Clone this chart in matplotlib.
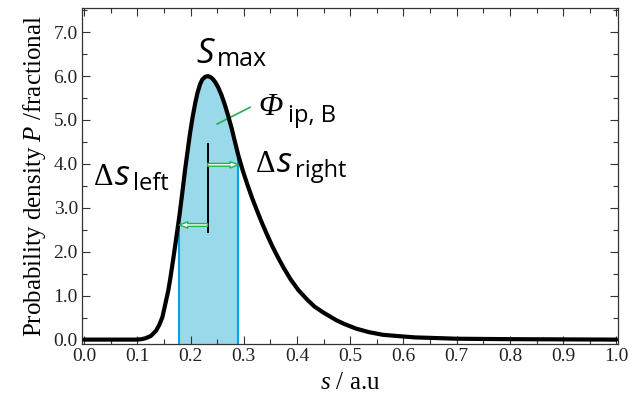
import numpy as np
import matplotlib
matplotlib.use('Agg')
import matplotlib.pyplot as plt
from matplotlib.ticker import MultipleLocator, FormatStrFormatter

plt.rcParams['mathtext.fontset'] = 'custom'
plt.rcParams['mathtext.it'] = 'Liberation Serif:italic'
plt.rcParams['mathtext.rm'] = 'Liberation Serif'

# distribution curve
s_vals = np.array([0.000, 0.100, 0.108, 0.115, 0.125, 0.135, 0.141, 0.147, 0.152,
                   0.158, 0.162, 0.167, 0.172, 0.179, 0.184, 0.190, 0.199, 0.204,
                   0.209, 0.213, 0.218, 0.222, 0.227, 0.232, 0.237, 0.242, 0.247,
                   0.252, 0.258, 0.264, 0.270, 0.277, 0.283, 0.290, 0.298, 0.307,
                   0.316, 0.326, 0.335, 0.344, 0.353, 0.363, 0.375, 0.388, 0.403,
                   0.419, 0.433, 0.449, 0.460, 0.474, 0.490, 0.511, 0.535, 0.561,
                   0.590, 0.622, 0.650, 0.700, 0.800, 1.000])
p_vals = np.array([0.00, 0.00, 0.01, 0.03, 0.08, 0.20, 0.33, 0.51, 0.78,
                   1.11, 1.40, 1.80, 2.22, 2.82, 3.30, 3.90, 4.70, 5.08,
                   5.40, 5.62, 5.82, 5.92, 5.98, 6.00, 5.98, 5.93, 5.85,
                   5.74, 5.57, 5.36, 5.12, 4.82, 4.52, 4.18, 3.85, 3.52,
                   3.21, 2.90, 2.63, 2.38, 2.14, 1.90, 1.63, 1.37, 1.12,
                   0.91, 0.75, 0.62, 0.54, 0.44, 0.35, 0.25, 0.17, 0.11,
                   0.08, 0.05, 0.04, 0.02, 0.01, 0.00])

s_peak = 0.232
s_left, s_right = 0.179, 0.290
peak_bar = (2.42, 4.48)
arrow_right_y = 3.98
arrow_left_y = 2.61
leader = ([0.250, 0.312], [4.91, 5.29])

W, H = 632, 413
fig = plt.figure(figsize=(W / 100, H / 100), dpi=100)
ax = fig.add_axes([82 / W, 1 - 344 / H, (618 - 82) / W, (344 - 8) / H])

FILL = '#99d9ea'
BLUE = '#00a2e8'
GREEN = '#22b14c'

mask = (s_vals >= s_left) & (s_vals <= s_right)
ax.fill_between(s_vals, -0.1, p_vals, where=mask, color=FILL, lw=0, zorder=1)
ax.vlines([s_left, s_right], -0.1,
          [np.interp(s_left, s_vals, p_vals), np.interp(s_right, s_vals, p_vals)],
          color=BLUE, lw=1.5, zorder=2)
ax.plot(s_vals, p_vals, color='black', lw=3.0, solid_joinstyle='round',
        solid_capstyle='round', zorder=4)
ax.vlines(s_peak, *peak_bar, color='black', lw=1.4, zorder=3)
ax.plot(*leader, color=GREEN, lw=1.2, zorder=3)

arrow = dict(arrowstyle='simple,head_width=0.45,head_length=0.6,tail_width=0.2',
             fc='white', ec=GREEN, lw=1.0, shrinkA=0, shrinkB=0)
ax.annotate('', xy=(s_right, arrow_right_y), xytext=(s_peak, arrow_right_y), arrowprops=arrow, zorder=5)
ax.annotate('', xy=(s_left, arrow_left_y), xytext=(s_peak, arrow_left_y), arrowprops=arrow, zorder=5)

ax.set_xlim(-0.004, 1.003)
ax.set_ylim(-0.1, 7.55)
ax.xaxis.set_major_locator(MultipleLocator(0.1))
ax.xaxis.set_minor_locator(MultipleLocator(0.05))
ax.yaxis.set_major_locator(MultipleLocator(1.0))
ax.yaxis.set_minor_locator(MultipleLocator(0.5))
ax.xaxis.set_major_formatter(FormatStrFormatter('%.1f'))
ax.yaxis.set_major_formatter(FormatStrFormatter('%.1f'))
ax.tick_params(which='both', direction='in', top=True, right=True, color='#333333', width=0.8)
ax.tick_params(which='major', length=6, pad=3)
ax.tick_params(which='minor', length=3.5)
for lab in ax.get_xticklabels() + ax.get_yticklabels():
    lab.set_fontfamily('Liberation Serif')
    lab.set_fontsize(14)
    lab.set_color('#222222')
for sp in ax.spines.values():
    sp.set_linewidth(0.9)
    sp.set_color('#333333')

ax.set_xlabel(r'$s$ / a.u', fontfamily='Liberation Serif', fontsize=18, labelpad=5)
ax.set_ylabel(r'Probability density $P$ /fractional', fontfamily='Liberation Serif',
              fontsize=18, labelpad=4)


def px(x, y):
    # figure pixel (from top-left) -> figure fraction
    return x / W, 1 - y / H


sans = 'Open Sans'
kw = dict(transform=fig.transFigure, va='baseline', ha='left')
# S_max
fig.text(*px(196, 63), 'S', fontfamily=sans, style='italic', fontsize=25, **kw)
fig.text(*px(217, 66), 'max', fontfamily=sans, fontsize=18, **kw)
# Phi_ip,B
fig.text(*px(258, 115), '\u03a6', fontfamily='Liberation Serif', style='italic', fontsize=23, **kw)
fig.text(*px(288, 122), 'ip, B', fontfamily=sans, fontsize=17, **kw)
# Delta s_right
fig.text(*px(256, 172), '\u0394', fontfamily='Liberation Serif', fontsize=22, **kw)
fig.text(*px(277, 172), 's', fontfamily=sans, style='italic', fontsize=25, **kw)
fig.text(*px(295, 177), 'right', fontfamily=sans, fontsize=17, **kw)
# Delta s_left
fig.text(*px(94, 185), '\u0394', fontfamily='Liberation Serif', fontsize=22, **kw)
fig.text(*px(115, 185), 's', fontfamily=sans, style='italic', fontsize=25, **kw)
fig.text(*px(133, 190), 'left', fontfamily=sans, fontsize=17, **kw)

fig.savefig('out.png', dpi=100, facecolor='white')
